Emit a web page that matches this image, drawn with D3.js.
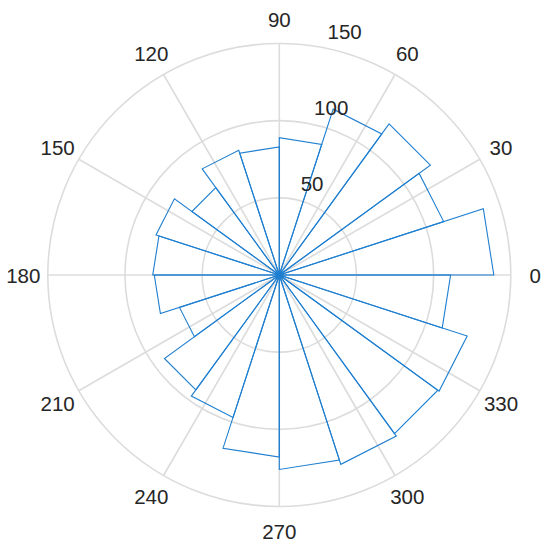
<!DOCTYPE html>
<html>
<head>
<meta charset="utf-8">
<script src="https://cdn.jsdelivr.net/npm/d3@7"></script>
<style>
  body { margin: 0; background: #fff; }
  text { font-family: "Liberation Sans", Arial, sans-serif; fill: #262626; }
</style>
</head>
<body>
<script>
// polar histogram, 20 bins of 18 degrees
var binStart = [0, 18, 36, 54, 72, 90, 108, 126, 144, 162,
                180, 198, 216, 234, 252, 270, 288, 306, 324, 342];
var binWidth = 18;
var counts = [139, 112, 121, 113, 89, 83, 85, 70, 84, 82,
              81, 68, 92, 97, 118, 126, 129, 127, 128, 111];
var thetaTicks = [0, 30, 60, 90, 120, 150, 180, 210, 240, 270, 300, 330];
var rTicks = [50, 100, 150];
var rMax = 150;

var width = 550;
var height = 549;
var cx = 279.3, cy = 275;

var svg = d3.select("body").append("svg")
    .attr("width", width)
    .attr("height", height);

var r = d3.scaleLinear().domain([0, rMax]).range([0, 231.5]);
var rad = function (deg) { return deg * Math.PI / 180; };
function px(val, deg) { return cx + r(val) * Math.cos(rad(deg)); }
function py(val, deg) { return cy - r(val) * Math.sin(rad(deg)); }

var grid = svg.append("g").attr("class", "grid")
    .attr("fill", "none")
    .attr("stroke", "#dcdcdc")
    .attr("stroke-width", 1.6);

grid.selectAll("circle")
    .data(rTicks)
    .enter().append("circle")
      .attr("cx", cx)
      .attr("cy", cy)
      .attr("r", function (d) { return r(d); });

grid.selectAll("line")
    .data(thetaTicks)
    .enter().append("line")
      .attr("x1", cx)
      .attr("y1", cy)
      .attr("x2", function (d) { return px(rMax, d); })
      .attr("y2", function (d) { return py(rMax, d); });

// bars
svg.append("g").attr("class", "bars")
  .selectAll("path")
  .data(counts)
  .enter().append("path")
    .attr("fill", "none")
    .attr("stroke", "#1f7fd0")
    .attr("stroke-width", 1.1)
    .attr("stroke-linejoin", "miter")
    .attr("d", function (d, i) {
      var a0 = binStart[i], a1 = binStart[i] + binWidth;
      return "M" + cx + "," + cy +
             "L" + px(d, a0) + "," + py(d, a0) +
             "L" + px(d, a1) + "," + py(d, a1) + "Z";
    });

// theta labels
svg.append("g").attr("class", "theta-labels")
  .selectAll("text")
  .data(thetaTicks)
  .enter().append("text")
    .attr("x", function (d) { return cx + 256 * Math.cos(rad(d)); })
    .attr("y", function (d) { return cy - 256 * Math.sin(rad(d)); })
    .attr("text-anchor", "middle")
    .attr("dominant-baseline", "central")
    .style("font-size", "20.5px")
    .text(function (d) { return d; });

// r labels at 80 degrees
svg.append("g").attr("class", "r-labels")
  .selectAll("text")
  .data(rTicks)
  .enter().append("text")
    .attr("x", function (d) { return px(d, 80) + 8; })
    .attr("y", function (d) { return py(d, 80) - 8; })
    .attr("text-anchor", "start")
    .style("font-size", "20.5px")
    .text(function (d) { return d; });
</script>
</body>
</html>
